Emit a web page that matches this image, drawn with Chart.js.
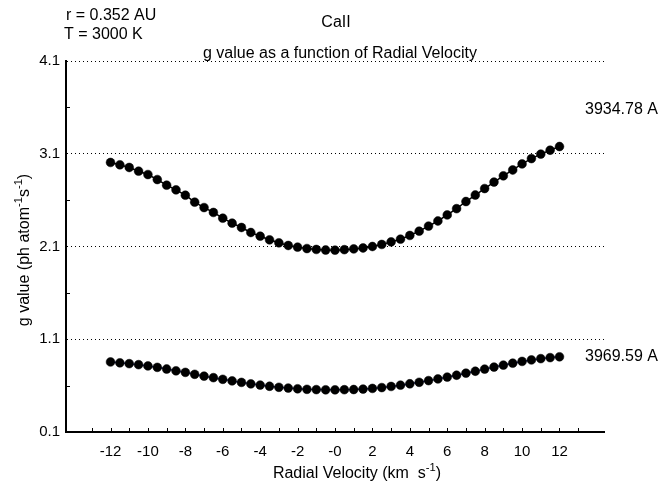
<!DOCTYPE html>
<html lang="en">
<head>
<meta charset="UTF-8">
<title>CaII g value as a function of Radial Velocity</title>
<script src="https://cdn.jsdelivr.net/npm/chart.js@4.4.0/dist/chart.umd.min.js"></script>
<style>
  html, body { margin: 0; padding: 0; background: #fff; }
</style>
</head>
<body>
<canvas id="chart" width="662" height="487"></canvas>
<script>
// radial velocity, km/s
const velocity = [-12, -11.5, -11, -10.5, -10, -9.5, -9, -8.5, -8, -7.5, -7, -6.5, -6, -5.5, -5, -4.5, -4, -3.5, -3, -2.5, -2, -1.5, -1, -0.5,
                  0, 0.5, 1, 1.5, 2, 2.5, 3, 3.5, 4, 4.5, 5, 5.5, 6, 6.5, 7, 7.5, 8, 8.5, 9, 9.5, 10, 10.5, 11, 11.5, 12];
// 3934.78 A line
const g3934 = [3.006, 2.981, 2.952, 2.912, 2.876, 2.822, 2.761, 2.711, 2.653, 2.578, 2.520, 2.467, 2.405, 2.352, 2.305, 2.251, 2.211, 2.172, 2.140, 2.111, 2.093, 2.078, 2.068, 2.062,
               2.060, 2.066, 2.074, 2.084, 2.100, 2.122, 2.150, 2.179, 2.219, 2.265, 2.320, 2.375, 2.440, 2.508, 2.585, 2.655, 2.725, 2.795, 2.862, 2.925, 2.990, 3.048, 3.096, 3.138, 3.178];
// 3969.59 A line
const g3969 = [0.855, 0.846, 0.837, 0.826, 0.812, 0.797, 0.779, 0.760, 0.743, 0.722, 0.702, 0.686, 0.668, 0.651, 0.635, 0.619, 0.606, 0.593, 0.582, 0.574, 0.566, 0.560, 0.557, 0.555,
               0.555, 0.556, 0.558, 0.563, 0.570, 0.579, 0.591, 0.605, 0.620, 0.636, 0.654, 0.672, 0.692, 0.712, 0.734, 0.755, 0.778, 0.800, 0.821, 0.842, 0.861, 0.877, 0.891, 0.902, 0.911];

const xTickValues = [-12, -10, -8, -6, -4, -2, 0, 2, 4, 6, 8, 10, 12];
const xTickLabels = ['-12', '-10', '-8', '-6', '-4', '-2', '-0', '2', '4', '6', '8', '10', '12'];
const xMinorTicks = [-13, -12, -11, -10, -9, -8, -7, -6, -5, -4, -3, -2, -1, 0, 1, 2, 3, 4, 5, 6, 7, 8, 9, 10, 11, 12, 13];
const yTickValues = [0.1, 1.1, 2.1, 3.1, 4.1];
const yTickLabels = ['0.1', '1.1', '2.1', '3.1', '4.1'];
const yMinorTicks = [0.6, 1.6, 2.6, 3.6];

const FONT = '"Liberation Sans", Arial, sans-serif';

// text with superscripts, parts = [[text, isSup], ...]
function richText(ctx, parts, x, y, size) {
  let w = 0;
  parts.forEach(p => {
    ctx.font = (p[1] ? size * 0.7 : size) + 'px ' + FONT;
    w += ctx.measureText(p[0]).width;
  });
  let cx = x - w / 2;
  parts.forEach(p => {
    ctx.font = (p[1] ? size * 0.7 : size) + 'px ' + FONT;
    ctx.fillText(p[0], cx, p[1] ? y - size * 0.42 : y);
    cx += ctx.measureText(p[0]).width;
  });
}

const extras = {
  id: 'extras',
  afterDraw(chart) {
    const ctx = chart.ctx;
    const xs = chart.scales.x, ys = chart.scales.y;
    ctx.save();
    ctx.strokeStyle = '#000';
    ctx.lineWidth = 1;
    ctx.beginPath();
    xMinorTicks.forEach(v => {
      const px = Math.round(xs.getPixelForValue(v)) + 0.5;
      ctx.moveTo(px, ys.bottom);
      ctx.lineTo(px, ys.bottom - 4);
    });
    yMinorTicks.forEach(v => {
      const py = Math.round(ys.getPixelForValue(v)) + 0.5;
      ctx.moveTo(xs.left, py);
      ctx.lineTo(xs.left + 4, py);
    });
    ctx.stroke();

    ctx.fillStyle = '#000';
    ctx.textBaseline = 'alphabetic';
    ctx.textAlign = 'left';
    ctx.font = '16px ' + FONT;
    ctx.fillText('r = 0.352 AU', 66, 20);
    ctx.fillText('T = 3000 K', 64, 39);
    ctx.fillText('3934.78 A', 585, 114);
    ctx.fillText('3969.59 A', 585, 361);
    ctx.textAlign = 'center';
    ctx.fillText('CaII', 336, 27);
    ctx.fillText('g value as a function of Radial Velocity', 340, 58);

    ctx.textAlign = 'left';
    richText(ctx, [['Radial Velocity (km  s', false], ['-1', true], [')', false]], 357, 478, 16);

    ctx.translate(29, 250);
    ctx.rotate(-Math.PI / 2);
    richText(ctx, [['g value (ph atom', false], ['-1', true], ['s', false], ['-1', true], [')', false]], 0, 0, 16);
    ctx.restore();
  }
};

new Chart(document.getElementById('chart'), {
  type: 'scatter',
  data: {
    datasets: [
      {
        label: '3934.78 A',
        data: velocity.map((v, i) => ({ x: v, y: g3934[i] })),
        showLine: true,
        borderColor: '#000',
        borderWidth: 1.5,
        pointRadius: 4.4,
        pointBackgroundColor: '#000',
        pointBorderColor: '#000',
        pointBorderWidth: 0.5
      },
      {
        label: '3969.59 A',
        data: velocity.map((v, i) => ({ x: v, y: g3969[i] })),
        showLine: true,
        borderColor: '#1a2a8c',
        borderWidth: 1.5,
        pointRadius: 4.4,
        pointBackgroundColor: '#000',
        pointBorderColor: '#000',
        pointBorderWidth: 0.5
      }
    ]
  },
  options: {
    responsive: false,
    animation: false,
    clip: false,
    layout: { padding: { top: 61, right: 58, left: 0, bottom: 0 }, autoPadding: false },
    plugins: { legend: { display: false }, tooltip: { enabled: false } },
    scales: {
      x: {
        type: 'linear',
        min: -14.38,
        max: 14.38,
        afterBuildTicks: s => { s.ticks = xTickValues.map(v => ({ value: v })); },
        afterFit: s => { s.height = 55; },
        ticks: {
          autoSkip: false,
          maxRotation: 0,
          padding: 11,
          color: '#000',
          font: { family: FONT, size: 15 },
          callback: (v) => xTickLabels[xTickValues.indexOf(v)]
        },
        grid: { display: false, drawTicks: false },
        border: { display: true, color: '#000', width: 2 }
      },
      y: {
        min: 0.1,
        max: 4.1,
        afterBuildTicks: s => { s.ticks = yTickValues.map(v => ({ value: v })); },
        afterFit: s => { s.width = 66; },
        ticks: {
          padding: 6,
          color: '#000',
          font: { family: FONT, size: 15 },
          callback: (v) => yTickLabels[yTickValues.indexOf(v)]
        },
        grid: {
          drawTicks: false,
          color: ctx => (ctx.tick && ctx.tick.value === 0.1) ? 'rgba(0,0,0,0)' : '#000',
          lineWidth: 1
        },
        border: { display: true, color: '#000', width: 2, dash: [1, 3] }
      }
    }
  },
  plugins: [extras]
});
</script>
</body>
</html>
